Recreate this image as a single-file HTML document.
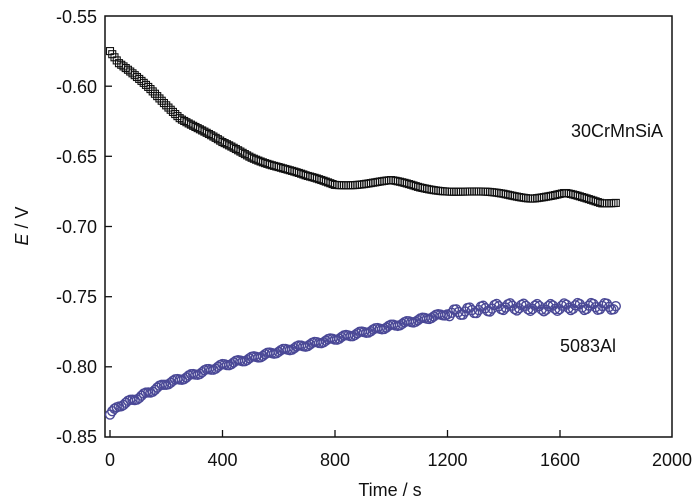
<!DOCTYPE html>
<html><head><meta charset="utf-8"><style>
body{margin:0;background:#fff}
svg{display:block;font-family:"Liberation Sans",Arial,sans-serif}
</style></head><body>
<svg id="s" width="700" height="502" viewBox="0 0 700 502" xmlns="http://www.w3.org/2000/svg">
<rect x="105" y="16" width="567" height="421" fill="none" stroke="#111" stroke-width="1.5"/>
<g stroke="#111" stroke-width="1.3">
<line x1="110" y1="437" x2="110" y2="430"/><line x1="222.5" y1="437" x2="222.5" y2="430"/><line x1="335" y1="437" x2="335" y2="430"/><line x1="447.5" y1="437" x2="447.5" y2="430"/><line x1="560" y1="437" x2="560" y2="430"/>
<line x1="105" y1="86.2" x2="112" y2="86.2"/><line x1="105" y1="156.3" x2="112" y2="156.3"/><line x1="105" y1="226.5" x2="112" y2="226.5"/><line x1="105" y1="296.7" x2="112" y2="296.7"/><line x1="105" y1="366.8" x2="112" y2="366.8"/>
</g>
<g font-size="18" fill="#111" text-anchor="middle">
<text x="110" y="466">0</text><text x="222.5" y="466">400</text><text x="335" y="466">800</text><text x="447.5" y="466">1200</text><text x="560" y="466">1600</text><text x="672" y="466">2000</text>
<text x="390" y="496">Time / s</text>
</g>
<g font-size="18" fill="#111" text-anchor="end">
<text x="97" y="23">-0.55</text><text x="97" y="93">-0.60</text><text x="97" y="163">-0.65</text><text x="97" y="233">-0.70</text><text x="97" y="303">-0.75</text><text x="97" y="373">-0.80</text><text x="97" y="443">-0.85</text>
</g>
<text transform="translate(28,226) rotate(-90)" font-size="18" fill="#111" text-anchor="middle"><tspan font-style="italic">E</tspan> / V</text>
<text x="571" y="137" font-size="18" fill="#111">30CrMnSiA</text>
<text x="560" y="352" font-size="18" fill="#111">5083Al</text>
<g id="a" fill="none" stroke="#111" stroke-width="1.1"></g>
<g id="b" fill="none" stroke="#4a4896" stroke-width="1.4"></g>
</svg>
<script>
function interp(p,t){for(var i=0;i<p.length-1;i++){if(t<=p[i+1][0]){var f=(t-p[i][0])/(p[i+1][0]-p[i][0]);return p[i][1]+f*(p[i+1][1]-p[i][1]);}}return p[p.length-1][1];}
var A=[[0,-0.575],[30,-0.584],[142,-0.602],[250,-0.622],[400,-0.641],[500,-0.650],[600,-0.657],[700,-0.665],[800,-0.670],[1000,-0.668],[1100,-0.672],[1200,-0.674],[1300,-0.676],[1400,-0.677],[1500,-0.679],[1580,-0.678],[1620,-0.677],[1680,-0.680],[1750,-0.683],[1800,-0.682]];
var B=[[0,-0.834],[30,-0.828],[100,-0.822],[200,-0.812],[400,-0.799],[600,-0.789],[800,-0.780],[1000,-0.771],[1200,-0.762],[1400,-0.757],[1550,-0.758],[1650,-0.757],[1800,-0.757]];
function X(t){return 110+t*562/2000;}function Y(v){return 437-(v+0.85)*421/0.3;}
var ns="http://www.w3.org/2000/svg",ga=document.getElementById('a'),gb=document.getElementById('b');
for(var t=0;t<=1800;t+=8){
 var r=document.createElementNS(ns,'rect');var x=X(t),y=Y(interp(A,t)+0.0012*Math.sin(t/50));
 r.setAttribute('x',x-3.5);r.setAttribute('y',y-3.5);r.setAttribute('width',7);r.setAttribute('height',7);ga.appendChild(r);
 var c=document.createElementNS(ns,'circle');var n=t>1200?0.0025*Math.sin(t*1.7):0.001*Math.sin(t*0.9);
 c.setAttribute('cx',x);c.setAttribute('cy',Y(interp(B,t)+n));c.setAttribute('r',4.5);gb.appendChild(c);
}
</script>
</body></html>
